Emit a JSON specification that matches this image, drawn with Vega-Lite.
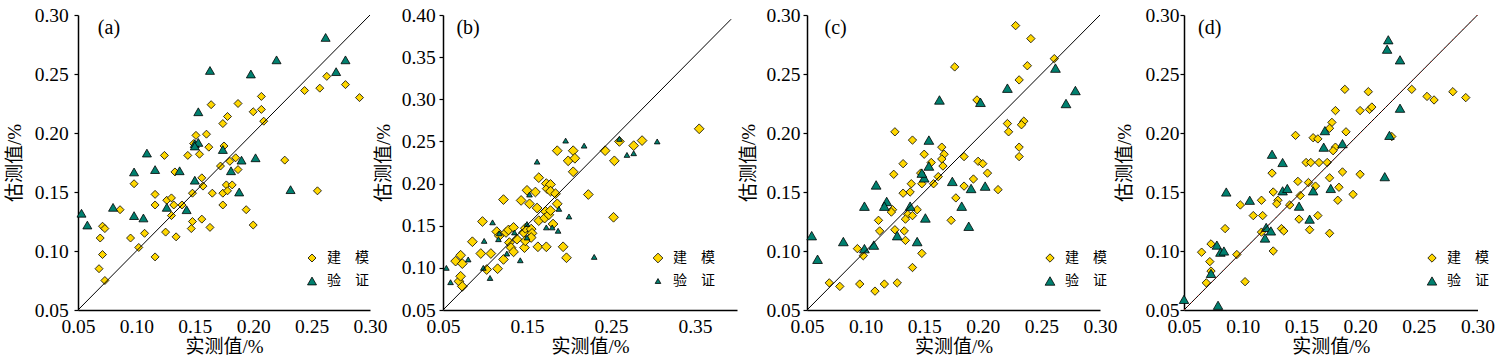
{
"$schema": "https://vega.github.io/schema/vega-lite/v6.json",
"padding": {"left": 5, "top": 5, "right": 0, "bottom": 0},
"background": "white",
"config": {
 "view": {"stroke": null},
 "font": "Liberation Serif",
 "axis": {"domainColor": "black", "domainWidth": 1.5, "tickColor": "black", "tickWidth": 1.2, "labelFont": "Liberation Serif", "labelFontSize": 19.5, "labelColor": "black", "titleFont": "Liberation Serif, Noto Sans CJK SC", "titleFontSize": 19, "titleFontWeight": "normal", "titleColor": "black", "grid": false, "labelFlush": false, "labelOverlap": false},
 "axisX": {"ticks": false, "tickSize": 0, "labelPadding": 7, "titlePadding": 2},
 "axisY": {"tickSize": 4},
 "legend": {"orient": "none", "padding": 0, "symbolSize": 22, "symbolStrokeColor": "black", "symbolStrokeWidth": 0.8, "labelFont": "Noto Sans CJK SC", "labelFontSize": 14, "labelColor": "black", "labelOffset": 8, "rowPadding": 9}
},
"datasets": {
 "a": [
  {"obs":0.069,"est":0.111,"type":"建　模"},{"obs":0.071,"est":0.121,"type":"建　模"},{"obs":0.073,"est":0.119,"type":"建　模"},{"obs":0.071,"est":0.097,"type":"建　模"},{"obs":0.068,"est":0.085,"type":"建　模"},{"obs":0.073,"est":0.075,"type":"建　模"},{"obs":0.086,"est":0.135,"type":"建　模"},{"obs":0.098,"est":0.157,"type":"建　模"},{"obs":0.095,"est":0.111,"type":"建　模"},{"obs":0.102,"est":0.103,"type":"建　模"},{"obs":0.107,"est":0.115,"type":"建　模"},{"obs":0.116,"est":0.095,"type":"建　模"},{"obs":0.116,"est":0.148,"type":"建　模"},{"obs":0.116,"est":0.139,"type":"建　模"},{"obs":0.124,"est":0.181,"type":"建　模"},{"obs":0.126,"est":0.143,"type":"建　模"},{"obs":0.130,"est":0.145,"type":"建　模"},{"obs":0.125,"est":0.116,"type":"建　模"},{"obs":0.132,"est":0.139,"type":"建　模"},{"obs":0.130,"est":0.130,"type":"建　模"},{"obs":0.134,"est":0.112,"type":"建　模"},{"obs":0.133,"est":0.167,"type":"建　模"},{"obs":0.139,"est":0.139,"type":"建　模"},{"obs":0.144,"est":0.181,"type":"建　模"},{"obs":0.148,"est":0.149,"type":"建　模"},{"obs":0.148,"est":0.125,"type":"建　模"},{"obs":0.147,"est":0.119,"type":"建　模"},{"obs":0.151,"est":0.198,"type":"建　模"},{"obs":0.154,"est":0.182,"type":"建　模"},{"obs":0.156,"est":0.162,"type":"建　模"},{"obs":0.157,"est":0.155,"type":"建　模"},{"obs":0.156,"est":0.127,"type":"建　模"},{"obs":0.160,"est":0.199,"type":"建　模"},{"obs":0.162,"est":0.188,"type":"建　模"},{"obs":0.164,"est":0.224,"type":"建　模"},{"obs":0.165,"est":0.149,"type":"建　模"},{"obs":0.163,"est":0.120,"type":"建　模"},{"obs":0.174,"est":0.208,"type":"建　模"},{"obs":0.178,"est":0.214,"type":"建　模"},{"obs":0.175,"est":0.189,"type":"建　模"},{"obs":0.172,"est":0.172,"type":"建　模"},{"obs":0.174,"est":0.149,"type":"建　模"},{"obs":0.174,"est":0.139,"type":"建　模"},{"obs":0.177,"est":0.156,"type":"建　模"},{"obs":0.180,"est":0.176,"type":"建　模"},{"obs":0.182,"est":0.156,"type":"建　模"},{"obs":0.178,"est":0.151,"type":"建　模"},{"obs":0.185,"est":0.179,"type":"建　模"},{"obs":0.187,"est":0.169,"type":"建　模"},{"obs":0.187,"est":0.225,"type":"建　模"},{"obs":0.194,"est":0.135,"type":"建　模"},{"obs":0.200,"est":0.218,"type":"建　模"},{"obs":0.207,"est":0.231,"type":"建　模"},{"obs":0.207,"est":0.220,"type":"建　模"},{"obs":0.209,"est":0.210,"type":"建　模"},{"obs":0.200,"est":0.122,"type":"建　模"},{"obs":0.227,"est":0.177,"type":"建　模"},{"obs":0.244,"est":0.236,"type":"建　模"},{"obs":0.257,"est":0.238,"type":"建　模"},{"obs":0.263,"est":0.248,"type":"建　模"},{"obs":0.279,"est":0.241,"type":"建　模"},{"obs":0.291,"est":0.230,"type":"建　模"},{"obs":0.255,"est":0.151,"type":"建　模"},{"obs":0.149,"est":0.191,"type":"建　模"},
  {"obs":0.053,"est":0.132,"type":"验　证"},{"obs":0.058,"est":0.122,"type":"验　证"},{"obs":0.080,"est":0.137,"type":"验　证"},{"obs":0.098,"est":0.167,"type":"验　证"},{"obs":0.098,"est":0.130,"type":"验　证"},{"obs":0.106,"est":0.128,"type":"验　证"},{"obs":0.109,"est":0.183,"type":"验　证"},{"obs":0.116,"est":0.169,"type":"验　证"},{"obs":0.126,"est":0.137,"type":"验　证"},{"obs":0.137,"est":0.168,"type":"验　证"},{"obs":0.143,"est":0.135,"type":"验　证"},{"obs":0.150,"est":0.160,"type":"验　证"},{"obs":0.150,"est":0.191,"type":"验　证"},{"obs":0.153,"est":0.192,"type":"验　证"},{"obs":0.150,"est":0.189,"type":"验　证"},{"obs":0.153,"est":0.218,"type":"验　证"},{"obs":0.163,"est":0.253,"type":"验　证"},{"obs":0.174,"est":0.186,"type":"验　证"},{"obs":0.181,"est":0.168,"type":"验　证"},{"obs":0.190,"est":0.177,"type":"验　证"},{"obs":0.188,"est":0.150,"type":"验　证"},{"obs":0.198,"est":0.250,"type":"验　证"},{"obs":0.202,"est":0.179,"type":"验　证"},{"obs":0.220,"est":0.262,"type":"验　证"},{"obs":0.232,"est":0.152,"type":"验　证"},{"obs":0.262,"est":0.281,"type":"验　证"},{"obs":0.271,"est":0.252,"type":"验　证"},{"obs":0.279,"est":0.262,"type":"验　证"}
 ],
 "b": [
  {"obs":0.065,"est":0.108,"type":"建　模"},{"obs":0.071,"est":0.115,"type":"建　模"},{"obs":0.073,"est":0.105,"type":"建　模"},{"obs":0.069,"est":0.084,"type":"建　模"},{"obs":0.071,"est":0.090,"type":"建　模"},{"obs":0.073,"est":0.078,"type":"建　模"},{"obs":0.085,"est":0.131,"type":"建　模"},{"obs":0.097,"est":0.155,"type":"建　模"},{"obs":0.095,"est":0.117,"type":"建　模"},{"obs":0.107,"est":0.117,"type":"建　模"},{"obs":0.102,"est":0.098,"type":"建　模"},{"obs":0.115,"est":0.099,"type":"建　模"},{"obs":0.114,"est":0.143,"type":"建　模"},{"obs":0.117,"est":0.138,"type":"建　模"},{"obs":0.122,"est":0.181,"type":"建　模"},{"obs":0.122,"est":0.110,"type":"建　模"},{"obs":0.125,"est":0.142,"type":"建　模"},{"obs":0.128,"est":0.145,"type":"建　模"},{"obs":0.129,"est":0.130,"type":"建　模"},{"obs":0.131,"est":0.124,"type":"建　模"},{"obs":0.134,"est":0.119,"type":"建　模"},{"obs":0.134,"est":0.148,"type":"建　模"},{"obs":0.138,"est":0.134,"type":"建　模"},{"obs":0.143,"est":0.180,"type":"建　模"},{"obs":0.147,"est":0.124,"type":"建　模"},{"obs":0.146,"est":0.142,"type":"建　模"},{"obs":0.148,"est":0.147,"type":"建　模"},{"obs":0.148,"est":0.132,"type":"建　模"},{"obs":0.150,"est":0.192,"type":"建　模"},{"obs":0.153,"est":0.176,"type":"建　模"},{"obs":0.155,"est":0.146,"type":"建　模"},{"obs":0.156,"est":0.141,"type":"建　模"},{"obs":0.155,"est":0.136,"type":"建　模"},{"obs":0.160,"est":0.190,"type":"建　模"},{"obs":0.162,"est":0.171,"type":"建　模"},{"obs":0.164,"est":0.207,"type":"建　模"},{"obs":0.164,"est":0.156,"type":"建　模"},{"obs":0.163,"est":0.125,"type":"建　模"},{"obs":0.172,"est":0.167,"type":"建　模"},{"obs":0.173,"est":0.200,"type":"建　模"},{"obs":0.174,"est":0.194,"type":"建　模"},{"obs":0.171,"est":0.159,"type":"建　模"},{"obs":0.176,"est":0.163,"type":"建　模"},{"obs":0.173,"est":0.125,"type":"建　模"},{"obs":0.178,"est":0.199,"type":"建　模"},{"obs":0.178,"est":0.191,"type":"建　模"},{"obs":0.178,"est":0.168,"type":"建　模"},{"obs":0.181,"est":0.152,"type":"建　模"},{"obs":0.184,"est":0.188,"type":"建　模"},{"obs":0.186,"est":0.176,"type":"建　模"},{"obs":0.186,"est":0.239,"type":"建　模"},{"obs":0.193,"est":0.125,"type":"建　模"},{"obs":0.197,"est":0.112,"type":"建　模"},{"obs":0.199,"est":0.227,"type":"建　模"},{"obs":0.205,"est":0.239,"type":"建　模"},{"obs":0.207,"est":0.230,"type":"建　模"},{"obs":0.205,"est":0.214,"type":"建　模"},{"obs":0.223,"est":0.187,"type":"建　模"},{"obs":0.243,"est":0.239,"type":"建　模"},{"obs":0.254,"est":0.227,"type":"建　模"},{"obs":0.253,"est":0.160,"type":"建　模"},{"obs":0.260,"est":0.250,"type":"建　模"},{"obs":0.277,"est":0.245,"type":"建　模"},{"obs":0.287,"est":0.251,"type":"建　模"},{"obs":0.355,"est":0.265,"type":"建　模"},
  {"obs":0.054,"est":0.100,"type":"验　证"},{"obs":0.059,"est":0.083,"type":"验　证"},{"obs":0.080,"est":0.110,"type":"验　证"},{"obs":0.099,"est":0.132,"type":"验　证"},{"obs":0.098,"est":0.100,"type":"验　证"},{"obs":0.106,"est":0.088,"type":"验　证"},{"obs":0.109,"est":0.154,"type":"验　证"},{"obs":0.117,"est":0.141,"type":"验　证"},{"obs":0.116,"est":0.134,"type":"验　证"},{"obs":0.126,"est":0.117,"type":"验　证"},{"obs":0.135,"est":0.142,"type":"验　证"},{"obs":0.142,"est":0.109,"type":"验　证"},{"obs":0.150,"est":0.152,"type":"验　证"},{"obs":0.150,"est":0.136,"type":"验　证"},{"obs":0.153,"est":0.187,"type":"验　证"},{"obs":0.162,"est":0.226,"type":"验　证"},{"obs":0.173,"est":0.148,"type":"验　证"},{"obs":0.180,"est":0.148,"type":"验　证"},{"obs":0.188,"est":0.170,"type":"验　证"},{"obs":0.187,"est":0.144,"type":"验　证"},{"obs":0.196,"est":0.251,"type":"验　证"},{"obs":0.200,"est":0.161,"type":"验　证"},{"obs":0.218,"est":0.245,"type":"验　证"},{"obs":0.230,"est":0.113,"type":"验　证"},{"obs":0.260,"est":0.253,"type":"验　证"},{"obs":0.269,"est":0.234,"type":"验　证"},{"obs":0.277,"est":0.236,"type":"验　证"},{"obs":0.305,"est":0.250,"type":"验　证"}
 ],
 "c": [
  {"obs":0.125,"est":0.201,"type":"建　模"},{"obs":0.140,"est":0.194,"type":"建　模"},{"obs":0.165,"est":0.188,"type":"建　模"},{"obs":0.167,"est":0.182,"type":"建　模"},{"obs":0.150,"est":0.182,"type":"建　模"},{"obs":0.132,"est":0.174,"type":"建　模"},{"obs":0.156,"est":0.175,"type":"建　模"},{"obs":0.165,"est":0.178,"type":"建　模"},{"obs":0.166,"est":0.172,"type":"建　模"},{"obs":0.124,"est":0.165,"type":"建　模"},{"obs":0.147,"est":0.166,"type":"建　模"},{"obs":0.162,"est":0.163,"type":"建　模"},{"obs":0.158,"est":0.157,"type":"建　模"},{"obs":0.148,"est":0.157,"type":"建　模"},{"obs":0.139,"est":0.157,"type":"建　模"},{"obs":0.138,"est":0.150,"type":"建　模"},{"obs":0.132,"est":0.149,"type":"建　模"},{"obs":0.184,"est":0.180,"type":"建　模"},{"obs":0.196,"est":0.176,"type":"建　模"},{"obs":0.200,"est":0.174,"type":"建　模"},{"obs":0.204,"est":0.166,"type":"建　模"},{"obs":0.192,"est":0.161,"type":"建　模"},{"obs":0.184,"est":0.155,"type":"建　模"},{"obs":0.177,"est":0.145,"type":"建　模"},{"obs":0.173,"est":0.126,"type":"建　模"},{"obs":0.123,"est":0.135,"type":"建　模"},{"obs":0.122,"est":0.133,"type":"建　模"},{"obs":0.144,"est":0.135,"type":"建　模"},{"obs":0.136,"est":0.131,"type":"建　模"},{"obs":0.140,"est":0.130,"type":"建　模"},{"obs":0.134,"est":0.127,"type":"建　模"},{"obs":0.111,"est":0.126,"type":"建　模"},{"obs":0.112,"est":0.117,"type":"建　模"},{"obs":0.125,"est":0.118,"type":"建　模"},{"obs":0.133,"est":0.117,"type":"建　模"},{"obs":0.134,"est":0.109,"type":"建　模"},{"obs":0.148,"est":0.098,"type":"建　模"},{"obs":0.140,"est":0.086,"type":"建　模"},{"obs":0.093,"est":0.102,"type":"建　模"},{"obs":0.098,"est":0.096,"type":"建　模"},{"obs":0.095,"est":0.072,"type":"建　模"},{"obs":0.108,"est":0.066,"type":"建　模"},{"obs":0.116,"est":0.072,"type":"建　模"},{"obs":0.127,"est":0.073,"type":"建　模"},{"obs":0.069,"est":0.073,"type":"建　模"},{"obs":0.078,"est":0.070,"type":"建　模"},{"obs":0.176,"est":0.256,"type":"建　模"},{"obs":0.228,"est":0.291,"type":"建　模"},{"obs":0.241,"est":0.280,"type":"建　模"},{"obs":0.238,"est":0.257,"type":"建　模"},{"obs":0.231,"est":0.245,"type":"建　模"},{"obs":0.261,"est":0.263,"type":"建　模"},{"obs":0.195,"est":0.228,"type":"建　模"},{"obs":0.221,"est":0.208,"type":"建　模"},{"obs":0.222,"est":0.201,"type":"建　模"},{"obs":0.235,"est":0.210,"type":"建　模"},{"obs":0.233,"est":0.207,"type":"建　模"},{"obs":0.231,"est":0.188,"type":"建　模"},{"obs":0.231,"est":0.180,"type":"建　模"},{"obs":0.213,"est":0.152,"type":"建　模"},
  {"obs":0.154,"est":0.194,"type":"验　证"},{"obs":0.154,"est":0.172,"type":"验　证"},{"obs":0.150,"est":0.162,"type":"验　证"},{"obs":0.148,"est":0.166,"type":"验　证"},{"obs":0.109,"est":0.156,"type":"验　证"},{"obs":0.118,"est":0.142,"type":"验　证"},{"obs":0.116,"est":0.138,"type":"验　证"},{"obs":0.099,"est":0.138,"type":"验　证"},{"obs":0.138,"est":0.138,"type":"验　证"},{"obs":0.151,"est":0.128,"type":"验　证"},{"obs":0.174,"est":0.159,"type":"验　证"},{"obs":0.190,"est":0.153,"type":"验　证"},{"obs":0.202,"est":0.155,"type":"验　证"},{"obs":0.182,"est":0.138,"type":"验　证"},{"obs":0.188,"est":0.121,"type":"验　证"},{"obs":0.127,"est":0.113,"type":"验　证"},{"obs":0.144,"est":0.108,"type":"验　证"},{"obs":0.107,"est":0.105,"type":"验　证"},{"obs":0.099,"est":0.102,"type":"验　证"},{"obs":0.081,"est":0.108,"type":"验　证"},{"obs":0.054,"est":0.113,"type":"验　证"},{"obs":0.059,"est":0.093,"type":"验　证"},{"obs":0.163,"est":0.228,"type":"验　证"},{"obs":0.198,"est":0.226,"type":"验　证"},{"obs":0.221,"est":0.238,"type":"验　证"},{"obs":0.262,"est":0.255,"type":"验　证"},{"obs":0.271,"est":0.225,"type":"验　证"},{"obs":0.279,"est":0.236,"type":"验　证"}
 ],
 "d": [
  {"obs":0.179,"est":0.219,"type":"建　模"},{"obs":0.176,"est":0.209,"type":"建　模"},{"obs":0.174,"est":0.204,"type":"建　模"},{"obs":0.188,"est":0.201,"type":"建　模"},{"obs":0.145,"est":0.198,"type":"建　模"},{"obs":0.160,"est":0.196,"type":"建　模"},{"obs":0.164,"est":0.195,"type":"建　模"},{"obs":0.179,"est":0.188,"type":"建　模"},{"obs":0.177,"est":0.185,"type":"建　模"},{"obs":0.154,"est":0.175,"type":"建　模"},{"obs":0.158,"est":0.175,"type":"建　模"},{"obs":0.165,"est":0.175,"type":"建　模"},{"obs":0.172,"est":0.175,"type":"建　模"},{"obs":0.185,"est":0.167,"type":"建　模"},{"obs":0.125,"est":0.166,"type":"建　模"},{"obs":0.174,"est":0.162,"type":"建　模"},{"obs":0.147,"est":0.159,"type":"建　模"},{"obs":0.156,"est":0.158,"type":"建　模"},{"obs":0.162,"est":0.155,"type":"建　模"},{"obs":0.182,"est":0.154,"type":"建　模"},{"obs":0.194,"est":0.148,"type":"建　模"},{"obs":0.181,"est":0.143,"type":"建　模"},{"obs":0.126,"est":0.150,"type":"建　模"},{"obs":0.130,"est":0.143,"type":"建　模"},{"obs":0.129,"est":0.140,"type":"建　模"},{"obs":0.116,"est":0.143,"type":"建　模"},{"obs":0.098,"est":0.139,"type":"建　模"},{"obs":0.140,"est":0.139,"type":"建　模"},{"obs":0.149,"est":0.147,"type":"建　模"},{"obs":0.109,"est":0.130,"type":"建　模"},{"obs":0.117,"est":0.130,"type":"建　模"},{"obs":0.148,"est":0.127,"type":"建　模"},{"obs":0.164,"est":0.130,"type":"建　模"},{"obs":0.157,"est":0.118,"type":"建　模"},{"obs":0.174,"est":0.115,"type":"建　模"},{"obs":0.133,"est":0.119,"type":"建　模"},{"obs":0.135,"est":0.117,"type":"建　模"},{"obs":0.085,"est":0.119,"type":"建　模"},{"obs":0.116,"est":0.116,"type":"建　模"},{"obs":0.126,"est":0.100,"type":"建　模"},{"obs":0.095,"est":0.097,"type":"建　模"},{"obs":0.073,"est":0.106,"type":"建　模"},{"obs":0.065,"est":0.099,"type":"建　模"},{"obs":0.072,"est":0.091,"type":"建　模"},{"obs":0.073,"est":0.083,"type":"建　模"},{"obs":0.069,"est":0.073,"type":"建　模"},{"obs":0.187,"est":0.237,"type":"建　模"},{"obs":0.207,"est":0.235,"type":"建　模"},{"obs":0.200,"est":0.219,"type":"建　模"},{"obs":0.208,"est":0.220,"type":"建　模"},{"obs":0.210,"est":0.222,"type":"建　模"},{"obs":0.227,"est":0.197,"type":"建　模"},{"obs":0.200,"est":0.165,"type":"建　模"},{"obs":0.244,"est":0.237,"type":"建　模"},{"obs":0.257,"est":0.231,"type":"建　模"},{"obs":0.263,"est":0.228,"type":"建　模"},{"obs":0.279,"est":0.235,"type":"建　模"},{"obs":0.290,"est":0.230,"type":"建　模"},{"obs":0.102,"est":0.074,"type":"建　模"},
  {"obs":0.170,"est":0.202,"type":"验　证"},{"obs":0.169,"est":0.188,"type":"验　证"},{"obs":0.185,"est":0.191,"type":"验　证"},{"obs":0.125,"est":0.182,"type":"验　证"},{"obs":0.134,"est":0.175,"type":"验　证"},{"obs":0.086,"est":0.150,"type":"验　证"},{"obs":0.106,"est":0.143,"type":"验　证"},{"obs":0.134,"est":0.151,"type":"验　证"},{"obs":0.138,"est":0.153,"type":"验　证"},{"obs":0.160,"est":0.151,"type":"验　证"},{"obs":0.175,"est":0.153,"type":"验　证"},{"obs":0.148,"est":0.138,"type":"验　证"},{"obs":0.157,"est":0.127,"type":"验　证"},{"obs":0.120,"est":0.120,"type":"验　证"},{"obs":0.124,"est":0.117,"type":"验　证"},{"obs":0.119,"est":0.111,"type":"验　证"},{"obs":0.078,"est":0.105,"type":"验　证"},{"obs":0.081,"est":0.099,"type":"验　证"},{"obs":0.084,"est":0.100,"type":"验　证"},{"obs":0.224,"est":0.279,"type":"验　证"},{"obs":0.223,"est":0.271,"type":"验　证"},{"obs":0.234,"est":0.262,"type":"验　证"},{"obs":0.234,"est":0.221,"type":"验　证"},{"obs":0.225,"est":0.198,"type":"验　证"},{"obs":0.221,"est":0.163,"type":"验　证"},{"obs":0.050,"est":0.059,"type":"验　证"},{"obs":0.079,"est":0.054,"type":"验　证"},{"obs":0.073,"est":0.081,"type":"验　证"}
 ]
},
"resolve": {"scale": {"color": "independent", "shape": "independent", "size": "independent"}},
"spacing": -3,
"hconcat": [
 {
  "resolve": {"scale": {"color": "independent", "shape": "independent", "size": "independent"}},
  "spacing": 2,
  "hconcat": [
   {
    "resolve": {"scale": {"color": "independent", "shape": "independent", "size": "independent"}},
    "spacing": 73,
    "bounds": "flush",
    "hconcat": [
     {
      "width": 292, "height": 295,
      "data": {"name": "a"},
      "layer": [
       {"mark": {"type": "point", "filled": true, "opacity": 1, "stroke": "black", "strokeWidth": 0.8},
        "encoding": {
         "x": {"field": "obs", "type": "quantitative", "scale": {"domain": [0.05, 0.30], "nice": false, "zero": false}, "axis": {"title": "实测值/%", "values": [0.05, 0.10, 0.15, 0.20, 0.25, 0.30], "format": ".2f"}},
         "y": {"field": "est", "type": "quantitative", "scale": {"domain": [0.05, 0.30], "nice": false, "zero": false}, "axis": {"title": "估测值/%", "values": [0.05, 0.10, 0.15, 0.20, 0.25, 0.30], "format": ".2f", "labelPadding": 5.7, "titlePadding": 10}},
         "shape": {"field": "type", "type": "nominal", "scale": {"domain": ["建　模", "验　证"], "range": ["diamond", "triangle-up"]}, "legend": {"title": null, "legendX": 227, "legendY": 236}},
         "color": {"field": "type", "type": "nominal", "scale": {"domain": ["建　模", "验　证"], "range": ["#FFD700", "#00806F"]}, "legend": {"title": null, "legendX": 227, "legendY": 236}},
         "size": {"field": "type", "type": "nominal", "scale": {"domain": ["建　模", "验　证"], "range": [64, 81]}, "legend": null}
        }},
       {"data": {"values": [{}]}, "mark": {"type": "rule", "color": "black", "strokeWidth": 1},
        "encoding": {"x": {"datum": 0.05, "type": "quantitative"}, "y": {"datum": 0.05, "type": "quantitative"}, "x2": {"datum": 0.30}, "y2": {"datum": 0.30}}},
       {"data": {"values": [{}]}, "mark": {"type": "text", "text": "(a)", "align": "left", "baseline": "middle", "fontSize": 20, "font": "Liberation Serif", "color": "black"},
        "encoding": {"x": {"datum": 0.067, "type": "quantitative"}, "y": {"datum": 0.289, "type": "quantitative"}}}
      ]
     },
     {
      "width": 294, "height": 295,
      "data": {"name": "b"},
      "layer": [
       {"mark": {"type": "point", "filled": true, "opacity": 1, "stroke": "black", "strokeWidth": 0.8},
        "encoding": {
         "x": {"field": "obs", "type": "quantitative", "scale": {"domain": [0.05, 0.40], "nice": false, "zero": false}, "axis": {"title": "实测值/%", "values": [0.05, 0.15, 0.25, 0.35], "format": ".2f"}},
         "y": {"field": "est", "type": "quantitative", "scale": {"domain": [0.05, 0.40], "nice": false, "zero": false}, "axis": {"title": "估测值/%", "values": [0.05, 0.10, 0.15, 0.20, 0.25, 0.30, 0.35, 0.40], "format": ".2f", "labelPadding": 3.7, "titlePadding": 8}},
         "shape": {"field": "type", "type": "nominal", "scale": {"domain": ["建　模", "验　证"], "range": ["diamond", "triangle-up"]}, "legend": {"title": null, "legendX": 208, "legendY": 236}},
         "color": {"field": "type", "type": "nominal", "scale": {"domain": ["建　模", "验　证"], "range": ["#FFD700", "#00806F"]}, "legend": {"title": null, "legendX": 208, "legendY": 236}},
         "size": {"field": "type", "type": "nominal", "scale": {"domain": ["建　模", "验　证"], "range": [95, 32]}, "legend": null}
        }},
       {"data": {"values": [{}]}, "mark": {"type": "rule", "color": "black", "strokeWidth": 1},
        "encoding": {"x": {"datum": 0.05, "type": "quantitative"}, "y": {"datum": 0.05, "type": "quantitative"}, "x2": {"datum": 0.393}, "y2": {"datum": 0.395}}},
       {"data": {"values": [{}]}, "mark": {"type": "text", "text": "(b)", "align": "left", "baseline": "middle", "fontSize": 20, "font": "Liberation Serif", "color": "black"},
        "encoding": {"x": {"datum": 0.066, "type": "quantitative"}, "y": {"datum": 0.384, "type": "quantitative"}}}
      ]
     }
    ]
   },
   {
    "width": 293, "height": 295,
    "data": {"name": "c"},
    "layer": [
     {"mark": {"type": "point", "filled": true, "opacity": 1, "stroke": "black", "strokeWidth": 0.8},
      "encoding": {
       "x": {"field": "obs", "type": "quantitative", "scale": {"domain": [0.05, 0.30], "nice": false, "zero": false}, "axis": {"title": "实测值/%", "values": [0.05, 0.10, 0.15, 0.20, 0.25, 0.30], "format": ".2f"}},
       "y": {"field": "est", "type": "quantitative", "scale": {"domain": [0.05, 0.30], "nice": false, "zero": false}, "axis": {"title": "估测值/%", "values": [0.05, 0.10, 0.15, 0.20, 0.25, 0.30], "format": ".2f", "labelPadding": 3, "titlePadding": 7}},
       "shape": {"field": "type", "type": "nominal", "scale": {"domain": ["建　模", "验　证"], "range": ["diamond", "triangle-up"]}, "legend": {"title": null, "legendX": 236, "legendY": 236}},
       "color": {"field": "type", "type": "nominal", "scale": {"domain": ["建　模", "验　证"], "range": ["#FFD700", "#00806F"]}, "legend": {"title": null, "legendX": 236, "legendY": 236}},
       "size": {"field": "type", "type": "nominal", "scale": {"domain": ["建　模", "验　证"], "range": [70, 95]}, "legend": null}
      }},
     {"data": {"values": [{}]}, "mark": {"type": "rule", "color": "black", "strokeWidth": 1},
      "encoding": {"x": {"datum": 0.05, "type": "quantitative"}, "y": {"datum": 0.05, "type": "quantitative"}, "x2": {"datum": 0.30}, "y2": {"datum": 0.30}}},
     {"data": {"values": [{}]}, "mark": {"type": "text", "text": "(c)", "align": "left", "baseline": "middle", "fontSize": 20, "font": "Liberation Serif", "color": "black"},
      "encoding": {"x": {"datum": 0.065, "type": "quantitative"}, "y": {"datum": 0.289, "type": "quantitative"}}}
    ]
   }
  ]
 },
 {
  "width": 293.5, "height": 295,
  "data": {"name": "d"},
  "layer": [
   {"mark": {"type": "point", "filled": true, "opacity": 1, "stroke": "black", "strokeWidth": 0.8},
    "encoding": {
     "x": {"field": "obs", "type": "quantitative", "scale": {"domain": [0.05, 0.30], "nice": false, "zero": false}, "axis": {"title": "实测值/%", "values": [0.05, 0.10, 0.15, 0.20, 0.25, 0.30], "format": ".2f"}},
     "y": {"field": "est", "type": "quantitative", "scale": {"domain": [0.05, 0.30], "nice": false, "zero": false}, "axis": {"title": "估测值/%", "values": [0.05, 0.10, 0.15, 0.20, 0.25, 0.30], "format": ".2f", "labelPadding": 1, "titlePadding": 10}},
     "shape": {"field": "type", "type": "nominal", "scale": {"domain": ["建　模", "验　证"], "range": ["diamond", "triangle-up"]}, "legend": {"title": null, "legendX": 241, "legendY": 236}},
     "color": {"field": "type", "type": "nominal", "scale": {"domain": ["建　模", "验　证"], "range": ["#FFD700", "#00806F"]}, "legend": {"title": null, "legendX": 241, "legendY": 236}},
     "size": {"field": "type", "type": "nominal", "scale": {"domain": ["建　模", "验　证"], "range": [70, 90]}, "legend": null}
    }},
   {"data": {"values": [{}]}, "mark": {"type": "rule", "color": "black", "strokeWidth": 1},
    "encoding": {"x": {"datum": 0.05, "type": "quantitative"}, "y": {"datum": 0.05, "type": "quantitative"}, "x2": {"datum": 0.30}, "y2": {"datum": 0.30}}},
   {"data": {"values": [{}]}, "mark": {"type": "rule", "color": "#D02010", "strokeWidth": 1, "strokeDash": [1, 4]},
    "encoding": {"x": {"datum": 0.05, "type": "quantitative"}, "y": {"datum": 0.05, "type": "quantitative"}, "x2": {"datum": 0.30}, "y2": {"datum": 0.30}}},
   {"data": {"values": [{}]}, "mark": {"type": "text", "text": "(d)", "align": "left", "baseline": "middle", "fontSize": 20, "font": "Liberation Serif", "color": "black"},
    "encoding": {"x": {"datum": 0.062, "type": "quantitative"}, "y": {"datum": 0.289, "type": "quantitative"}}}
  ]
 }
]
}
